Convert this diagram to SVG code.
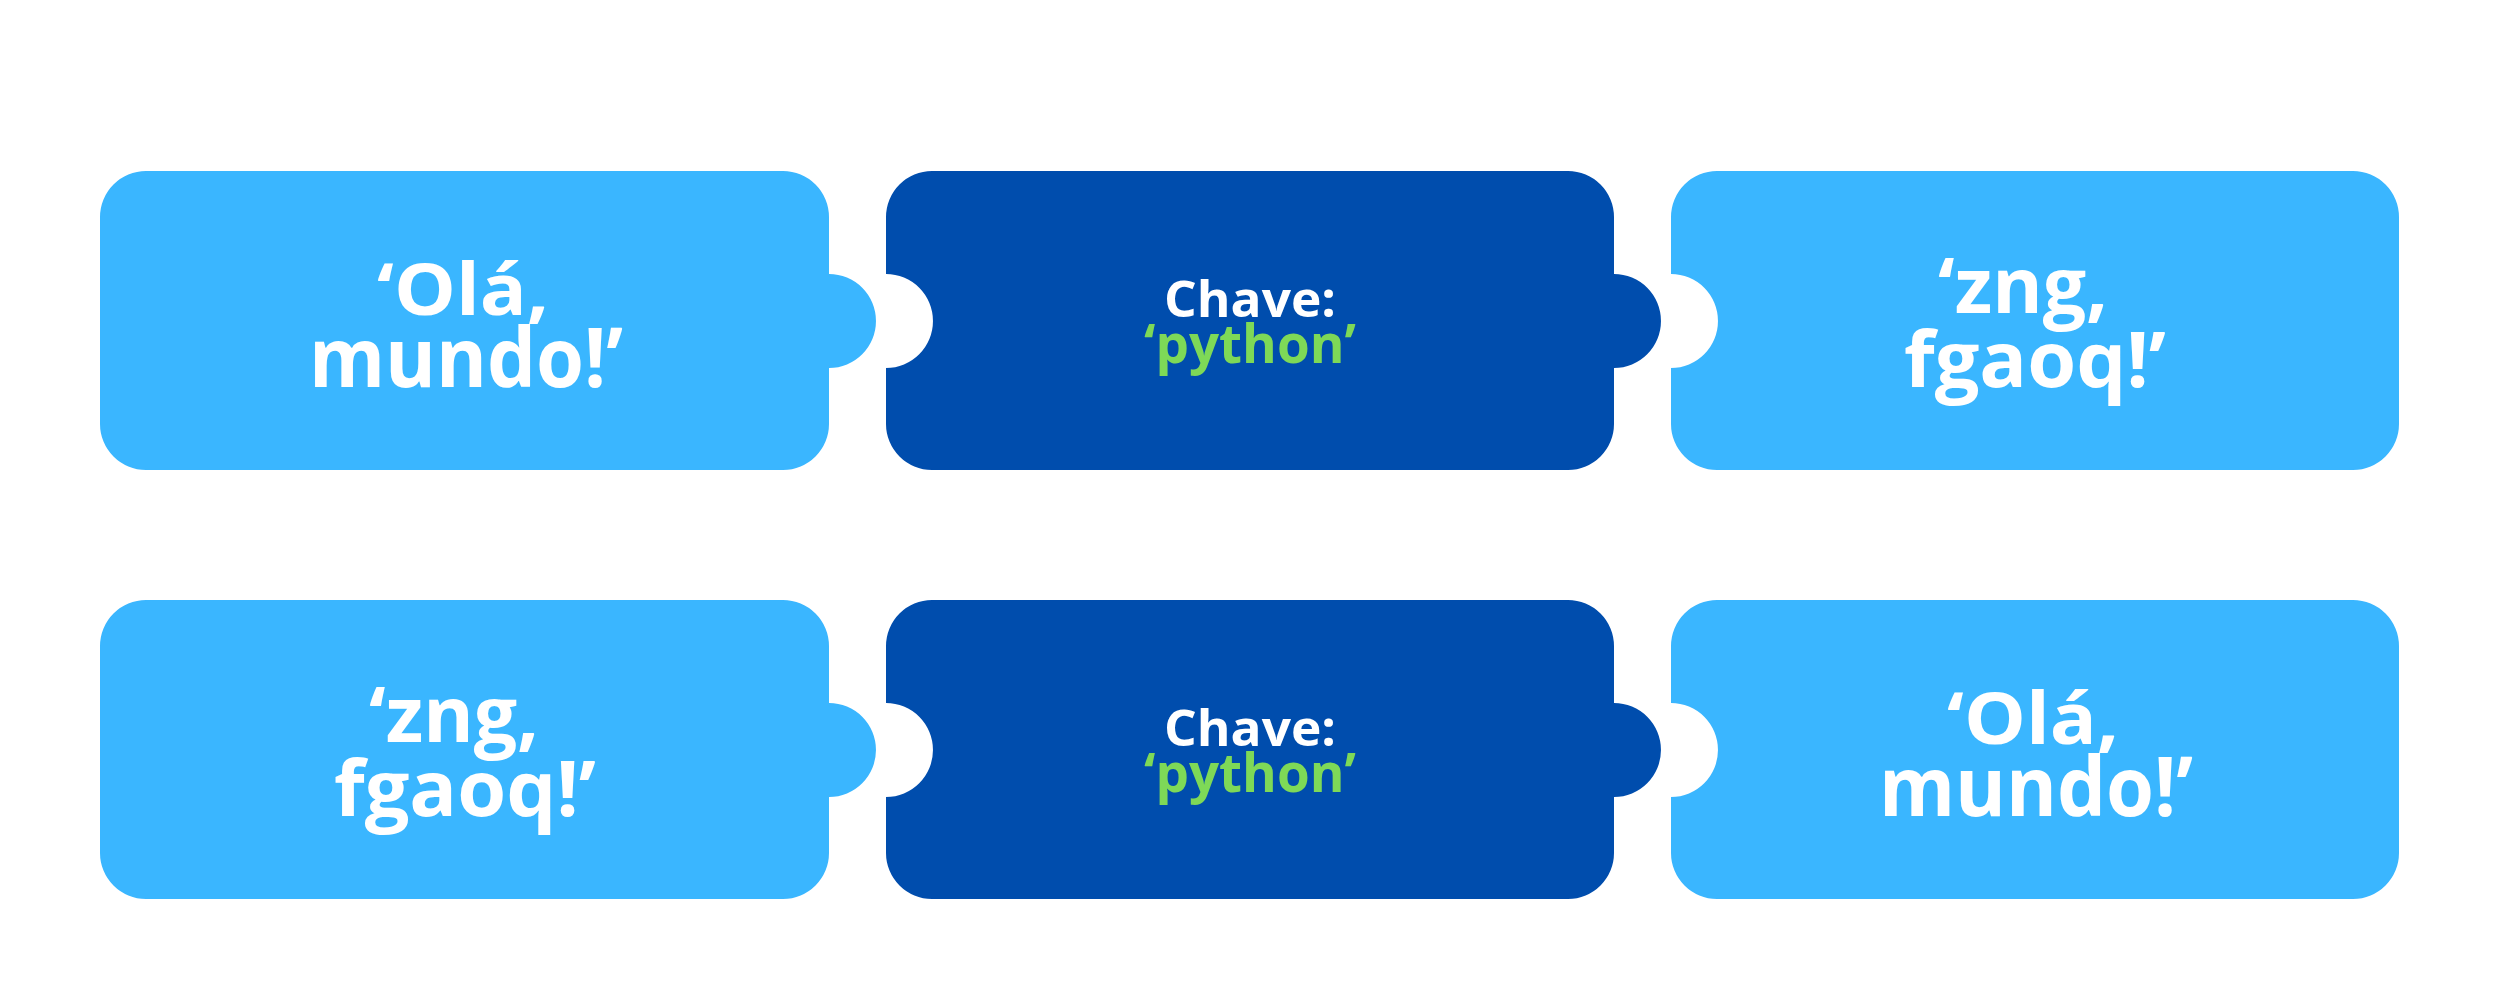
<svg xmlns="http://www.w3.org/2000/svg" width="2500" height="1000" viewBox="0 0 2500 1000">
<style>
.light{fill:#3AB6FF}
.dark{fill:#004DAD}
.t{font-family:"Open Sans","Noto Sans","Liberation Sans",sans-serif;font-weight:700;fill:#FFFFFF;text-anchor:middle}
.s70{font-size:72px}
.s82{font-size:82px}
.s77{font-size:77px}
.s50{font-size:51px}
.s52{font-size:54px}
.green{fill:#7ED957}
</style>
<defs>
<path id="pieceLeft" d="M146 171H783A46 46 0 0 1 829 217V274A47 47 0 0 1 829 368V424A46 46 0 0 1 783 470H146A46 46 0 0 1 100 424V217A46 46 0 0 1 146 171Z"/>
<path id="pieceMid" d="M932 171H1568A46 46 0 0 1 1614 217V274A47 47 0 0 1 1614 368V424A46 46 0 0 1 1568 470H932A46 46 0 0 1 886 424V368A47 47 0 0 0 886 274V217A46 46 0 0 1 932 171Z"/>
<path id="pieceRight" d="M1717 171H2353A46 46 0 0 1 2399 217V424A46 46 0 0 1 2353 470H1717A46 46 0 0 1 1671 424V368A47 47 0 0 0 1671 274V217A46 46 0 0 1 1717 171Z"/>
</defs>
<rect width="2500" height="1000" fill="#FFFFFF"/>
<g id="connectors"></g>
<g id="top-plain">
<use href="#pieceLeft" class="light"/>
<text class="t s70" x="463" y="315" textLength="172" lengthAdjust="spacingAndGlyphs">‘Olá,</text>
<text class="t s82" x="466" y="387" textLength="314" lengthAdjust="spacingAndGlyphs">mundo!’</text>
</g>
<g id="top-key">
<use href="#pieceMid" class="dark"/>
<text class="t s50" x="1250" y="317" textLength="172" lengthAdjust="spacingAndGlyphs">Chave:</text>
<text class="t s52 green" x="1250" y="363" textLength="212" lengthAdjust="spacingAndGlyphs">‘python’</text>
</g>
<g id="top-cipher">
<use href="#pieceRight" class="light"/>
<text class="t s77" x="2023" y="313" textLength="170" lengthAdjust="spacingAndGlyphs">‘zng,</text>
<text class="t s77" x="2035" y="387" textLength="262" lengthAdjust="spacingAndGlyphs">fgaoq!’</text>
</g>
<g id="bottom-cipher" transform="translate(0,429)">
<use href="#pieceLeft" class="light"/>
<text class="t s77" x="454" y="313" textLength="170" lengthAdjust="spacingAndGlyphs">‘zng,</text>
<text class="t s77" x="465" y="387" textLength="262" lengthAdjust="spacingAndGlyphs">fgaoq!’</text>
</g>
<g id="bottom-key" transform="translate(0,429)">
<use href="#pieceMid" class="dark"/>
<text class="t s50" x="1250" y="317" textLength="172" lengthAdjust="spacingAndGlyphs">Chave:</text>
<text class="t s52 green" x="1250" y="363" textLength="212" lengthAdjust="spacingAndGlyphs">‘python’</text>
</g>
<g id="bottom-plain" transform="translate(0,429)">
<use href="#pieceRight" class="light"/>
<text class="t s70" x="2033" y="315" textLength="172" lengthAdjust="spacingAndGlyphs">‘Olá,</text>
<text class="t s82" x="2036" y="387" textLength="314" lengthAdjust="spacingAndGlyphs">mundo!’</text>
</g>
</svg>
